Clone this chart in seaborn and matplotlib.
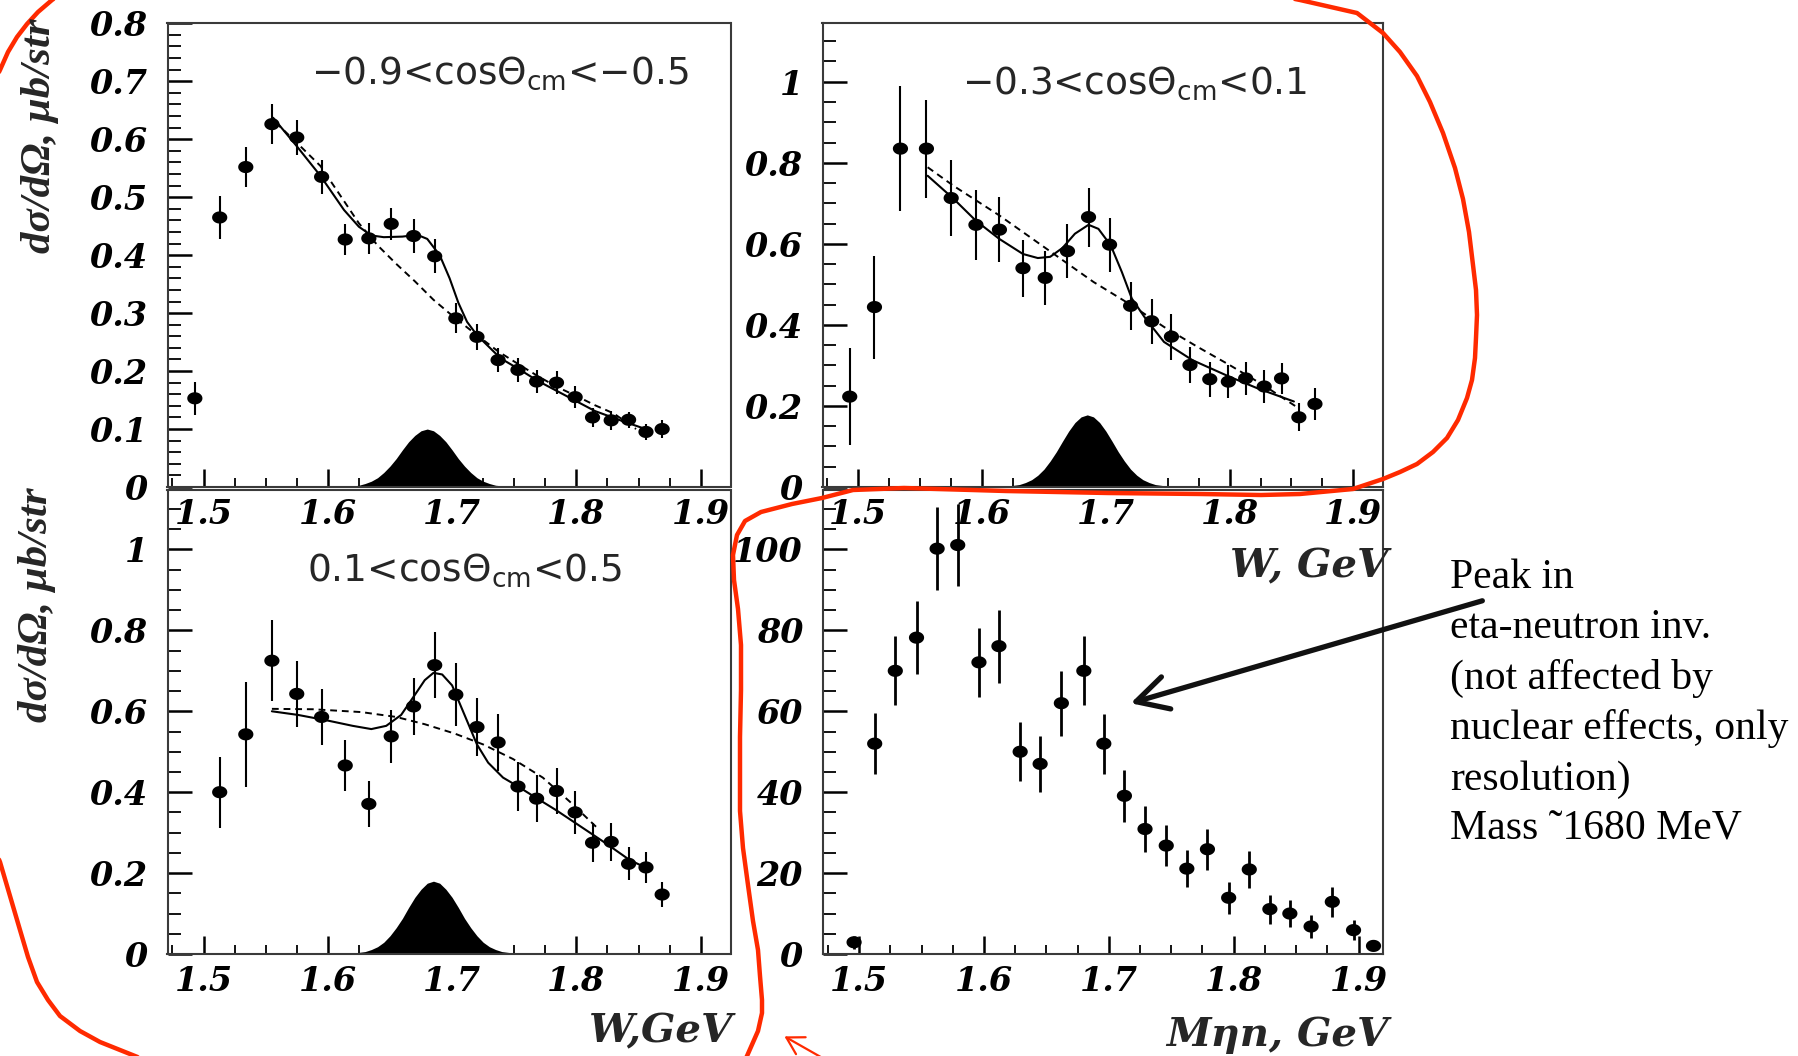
import numpy as np
import pandas as pd
import matplotlib
matplotlib.use("Agg")
import matplotlib.pyplot as plt
import seaborn as sns
from matplotlib.path import Path
from matplotlib.lines import Line2D
from matplotlib.patches import FancyArrowPatch
from matplotlib.ticker import MultipleLocator, FuncFormatter

# ---------------- data ----------------
W = [1.493, 1.513, 1.534, 1.555, 1.575, 1.595, 1.614, 1.633, 1.651, 1.669, 1.686, 1.703,
     1.720, 1.737, 1.753, 1.768, 1.784, 1.799, 1.813, 1.828, 1.842, 1.856, 1.869]

TL_y = [0.153, 0.465, 0.552, 0.626, 0.603, 0.535, 0.427, 0.429, 0.454, 0.433, 0.398, 0.291,
        0.259, 0.219, 0.202, 0.182, 0.180, 0.155, 0.120, 0.115, 0.116, 0.095, 0.100]
TL_err = [0.029, 0.037, 0.034, 0.034, 0.031, 0.030, 0.027, 0.027, 0.028, 0.029, 0.029, 0.026,
          0.022, 0.021, 0.020, 0.020, 0.020, 0.019, 0.017, 0.016, 0.014, 0.014, 0.015]

TR_y = [0.223, 0.444, 0.835, 0.835, 0.713, 0.647, 0.635, 0.540, 0.516, 0.582, 0.666, 0.598,
        0.447, 0.409, 0.371, 0.301, 0.266, 0.260, 0.268, 0.248, 0.268, 0.172, 0.205]
TR_err = [0.119, 0.127, 0.154, 0.121, 0.094, 0.087, 0.081, 0.070, 0.067, 0.067, 0.073, 0.067,
          0.059, 0.056, 0.057, 0.045, 0.043, 0.041, 0.041, 0.041, 0.039, 0.035, 0.040]

BL_W = [1.513, 1.534, 1.555, 1.575, 1.595, 1.614, 1.633, 1.651, 1.669, 1.686, 1.703,
        1.720, 1.737, 1.753, 1.768, 1.784, 1.799, 1.813, 1.828, 1.842, 1.856, 1.869]
BL_y = [0.400, 0.543, 0.725, 0.643, 0.586, 0.466, 0.371, 0.538, 0.612, 0.714, 0.641,
        0.561, 0.523, 0.414, 0.384, 0.403, 0.350, 0.275, 0.277, 0.223, 0.214, 0.147]
BL_err = [0.088, 0.130, 0.100, 0.082, 0.070, 0.062, 0.056, 0.065, 0.070, 0.082, 0.078,
          0.072, 0.070, 0.060, 0.058, 0.058, 0.054, 0.048, 0.048, 0.041, 0.038, 0.030]

M = [1.496, 1.5125, 1.529, 1.546, 1.5625, 1.579, 1.596, 1.612, 1.629, 1.645, 1.662, 1.680, 1.696,
     1.7125, 1.729, 1.746, 1.7625, 1.779, 1.796, 1.8125, 1.829, 1.845, 1.862, 1.879, 1.896, 1.912]
BR_y = [2.9, 52.0, 70.0, 78.2, 100.2, 101.1, 72.1, 76.1, 50.0, 47.0, 62.0, 70.0, 52.0,
        39.1, 30.9, 26.8, 21.1, 25.9, 13.9, 20.9, 11.1, 10.0, 6.8, 12.9, 5.9, 2.0]
BR_err = [1.6, 7.5, 8.5, 9.0, 10.2, 10.2, 8.5, 9.0, 7.3, 7.0, 8.0, 8.5, 7.4,
          6.4, 5.7, 5.1, 4.5, 5.1, 3.9, 4.5, 3.6, 3.4, 2.8, 3.7, 2.5, 0.0]

# fit curves (full fit = solid, background = dashed)
TL_fit_x = [1.556, 1.575, 1.594, 1.613, 1.625, 1.635, 1.645, 1.660, 1.672, 1.680, 1.690, 1.698,
            1.705, 1.712, 1.720, 1.739, 1.754, 1.769, 1.792, 1.815, 1.838, 1.857]
TL_fit_y = [0.637, 0.588, 0.537, 0.478, 0.449, 0.434, 0.431, 0.432, 0.435, 0.428, 0.400, 0.360,
            0.318, 0.285, 0.262, 0.222, 0.203, 0.183, 0.157, 0.131, 0.113, 0.099]
TL_bg_x = [1.558, 1.575, 1.594, 1.610, 1.625, 1.640, 1.655, 1.670, 1.685, 1.701, 1.720, 1.737,
           1.754, 1.770, 1.785, 1.800, 1.815, 1.830, 1.848]
TL_bg_y = [0.629, 0.594, 0.554, 0.503, 0.455, 0.417, 0.385, 0.355, 0.323, 0.294, 0.262, 0.234,
           0.211, 0.190, 0.172, 0.157, 0.141, 0.127, 0.100]

TR_fit_x = [1.556, 1.577, 1.595, 1.614, 1.633, 1.645, 1.655, 1.665, 1.675, 1.686, 1.694, 1.704,
            1.713, 1.721, 1.732, 1.747, 1.770, 1.800, 1.823, 1.852]
TR_fit_y = [0.768, 0.711, 0.657, 0.612, 0.575, 0.565, 0.568, 0.590, 0.625, 0.647, 0.637, 0.596,
            0.530, 0.465, 0.416, 0.358, 0.313, 0.272, 0.243, 0.211]
TR_bg_x = [1.556, 1.577, 1.614, 1.652, 1.690, 1.721, 1.747, 1.774, 1.800, 1.827, 1.854]
TR_bg_y = [0.789, 0.743, 0.670, 0.588, 0.506, 0.448, 0.395, 0.346, 0.301, 0.252, 0.198]

BL_fit_x = [1.555, 1.576, 1.600, 1.620, 1.635, 1.647, 1.659, 1.671, 1.678, 1.685, 1.692, 1.700,
            1.710, 1.720, 1.729, 1.741, 1.751, 1.765, 1.784, 1.804, 1.824, 1.843, 1.859]
BL_fit_y = [0.600, 0.591, 0.577, 0.564, 0.556, 0.564, 0.591, 0.645, 0.677, 0.695, 0.691, 0.664,
            0.591, 0.518, 0.473, 0.436, 0.418, 0.391, 0.355, 0.314, 0.273, 0.232, 0.209]
BL_bg_x = [1.555, 1.588, 1.627, 1.655, 1.678, 1.702, 1.725, 1.749, 1.773, 1.796, 1.816]
BL_bg_y = [0.606, 0.605, 0.598, 0.586, 0.568, 0.545, 0.518, 0.482, 0.436, 0.373, 0.314]

# simulated resolution peaks (filled)
TL_res_x = [1.615, 1.620, 1.625, 1.630, 1.635, 1.640, 1.645, 1.650, 1.655, 1.660, 1.665, 1.670, 1.675,
            1.680, 1.685, 1.690, 1.695, 1.700, 1.705, 1.710, 1.715, 1.720, 1.725, 1.730, 1.735, 1.740, 1.745]
TL_res_y = [0.001, 0.002, 0.003, 0.006, 0.010, 0.016, 0.025, 0.036, 0.049, 0.064, 0.078, 0.089, 0.097,
            0.100, 0.097, 0.089, 0.078, 0.064, 0.049, 0.036, 0.025, 0.016, 0.010, 0.006, 0.003, 0.002, 0.001]
TR_res_x = [1.620, 1.625, 1.630, 1.635, 1.640, 1.645, 1.650, 1.655, 1.660, 1.665, 1.670, 1.675, 1.680,
            1.685, 1.690, 1.695, 1.700, 1.705, 1.710, 1.715, 1.720, 1.725, 1.730, 1.735, 1.740, 1.745, 1.750]
TR_res_y = [0.002, 0.004, 0.006, 0.011, 0.018, 0.029, 0.044, 0.064, 0.087, 0.113, 0.138, 0.159, 0.173,
            0.178, 0.173, 0.159, 0.138, 0.113, 0.087, 0.064, 0.044, 0.029, 0.018, 0.011, 0.006, 0.004, 0.002]
BL_res_x = TR_res_x
BL_res_y = [0.002, 0.004, 0.006, 0.011, 0.018, 0.029, 0.045, 0.065, 0.088, 0.115, 0.140, 0.160, 0.175,
            0.180, 0.175, 0.160, 0.140, 0.115, 0.088, 0.065, 0.045, 0.029, 0.018, 0.011, 0.006, 0.004, 0.002]

TITLES = ["\u22120.9<cos\u0398$_{cm}$<\u22120.5", "\u22120.3<cos\u0398$_{cm}$<0.1", "0.1<cos\u0398$_{cm}$<0.5"]
YLABEL = "d\u03c3/d\u03a9, \u03bcb/str"
NOTE = ["Peak in", "eta-neutron inv.", "(not affected by", "nuclear effects, only",
        "resolution)", "Mass \u02dc1680 MeV"]

# ---------------- style ----------------
sns.set_theme(style="ticks")
plt.rcParams.update({
    "font.family": ["Liberation Serif", "DejaVu Serif"],
    "font.weight": "bold",
    "font.style": "italic",
    "mathtext.default": "regular",
    "axes.linewidth": 1.5,
    "axes.edgecolor": "#3a3a3a",
    "axes.facecolor": "none",
    "xtick.direction": "in",
    "ytick.direction": "in",
    "xtick.color": "black",
    "ytick.color": "black",
})

FW, FH = 1798, 1056
fig = plt.figure(figsize=(FW / 100, FH / 100), dpi=100)
fig.patch.set_facecolor("white")


def P(x, y):
    return (x / FW, 1 - y / FH)


def add_ax(x0, y0, x1, y1):
    return fig.add_axes([x0 / FW, 1 - y1 / FH, (x1 - x0) / FW, (y1 - y0) / FH])


ax_tl = add_ax(167.5, 23, 730.5, 487)
ax_tr = add_ax(822.5, 23, 1383, 487)
ax_bl = add_ax(167.5, 490, 730.5, 954)
ax_br = add_ax(822.5, 490, 1383, 954)

th = np.linspace(0, 2 * np.pi, 40)
ELL = Path(np.column_stack([np.cos(th), 0.8 * np.sin(th)]))

fmt = FuncFormatter(lambda v, p: f"{v:g}")
TICKFONT = "DejaVu Serif"


def style(ax, xlim, ylim, ymaj, ymin):
    ax.set_xlim(*xlim)
    ax.set_ylim(*ylim)
    ax.xaxis.set_major_locator(MultipleLocator(0.1))
    ax.xaxis.set_minor_locator(MultipleLocator(0.025))
    ax.yaxis.set_major_locator(MultipleLocator(ymaj))
    ax.yaxis.set_minor_locator(MultipleLocator(ymin))
    ax.xaxis.set_major_formatter(fmt)
    ax.yaxis.set_major_formatter(fmt)
    ax.tick_params(axis="y", which="major", length=17, width=1.8, pad=14, labelsize=24,
                   labelfontfamily=TICKFONT)
    ax.tick_params(axis="y", which="minor", length=9, width=1.3)
    ax.tick_params(axis="x", which="major", length=13, width=1.8, pad=8, labelsize=24,
                   labelfontfamily=TICKFONT)
    ax.tick_params(axis="x", which="minor", length=6.5, width=1.3)
    ax.set_xlabel("")
    ax.set_ylabel("")
    for s in ax.spines.values():
        s.set_linewidth(1.5)
        s.set_color("#3a3a3a")


def points(ax, x, y, err, elw=1.5):
    df = pd.DataFrame({"x": x, "y": y, "err": err})
    ax.errorbar(df["x"], df["y"], yerr=df["err"], fmt="none", ecolor="black",
                elinewidth=elw, capsize=0, zorder=3)
    sns.scatterplot(data=df, x="x", y="y", ax=ax, marker=ELL, s=120, color="black",
                    edgecolor="none", linewidth=0, zorder=4, legend=False)


def curves(ax, fx, fy, bx, by, rx, ry):
    ax.fill_between(rx, 0, ry, color="black", lw=0, zorder=2)
    sns.lineplot(x=bx, y=by, ax=ax, color="black", lw=1.4, linestyle=(0, (3.5, 2.5)),
                 sort=False, zorder=3)
    sns.lineplot(x=fx, y=fy, ax=ax, color="black", lw=1.5, sort=False, zorder=3)


WLIM = (1.471, 1.924)
curves(ax_tl, TL_fit_x, TL_fit_y, TL_bg_x, TL_bg_y, TL_res_x, TL_res_y)
points(ax_tl, W, TL_y, TL_err)
style(ax_tl, WLIM, (0, 0.8005), 0.1, 0.02)

curves(ax_tr, TR_fit_x, TR_fit_y, TR_bg_x, TR_bg_y, TR_res_x, TR_res_y)
points(ax_tr, W, TR_y, TR_err)
style(ax_tr, WLIM, (0, 1.145), 0.2, 0.05)

curves(ax_bl, BL_fit_x, BL_fit_y, BL_bg_x, BL_bg_y, BL_res_x, BL_res_y)
points(ax_bl, BL_W, BL_y, BL_err)
style(ax_bl, WLIM, (0, 1.147), 0.2, 0.05)

points(ax_br, M, BR_y, BR_err, elw=2.0)
style(ax_br, (1.4707, 1.9196), (0, 114.7), 20, 5)

# panel titles
tkw = dict(family=["DejaVu Sans"], weight="normal", style="normal",
           fontsize=27, ha="center", va="center")
ax_tl.text(0.59, 0.892, TITLES[0], transform=ax_tl.transAxes, **tkw)
ax_tr.text(0.556, 0.871, TITLES[1], transform=ax_tr.transAxes, **tkw)
ax_bl.text(0.528, 0.828, TITLES[2], transform=ax_bl.transAxes, **tkw)

# axis titles
xkw = dict(family=["DejaVu Serif"], fontsize=29, weight="bold", style="italic",
           ha="right", va="center")
fig.text(*P(733, 1031), "W,GeV", **xkw)
fig.text(*P(1388, 566), "W, GeV", **xkw)
fig.text(*P(1388, 1035), "M\u03b7n, GeV", **xkw)
ykw = dict(family=["Liberation Serif"], fontsize=31, weight="bold", style="italic",
           rotation=90, ha="center", va="top")
fig.text(*P(40, 18), YLABEL, **ykw)
fig.text(*P(37, 487), YLABEL, **ykw)

# note
for i, line in enumerate(NOTE):
    fig.text(*P(1450, 588 + 50.4 * i), line, fontsize=30, weight="normal", style="normal",
             color="black", ha="left", va="baseline")

# black arrow
fig.add_artist(FancyArrowPatch(P(1485, 600), P(1128, 704), transform=fig.transFigure,
                               arrowstyle="->,head_length=0.75,head_width=0.4",
                               mutation_scale=30, lw=3.8, color="#111111"))

# red hand-drawn outlines
RED = "#ff2a00"
red_paths = [
    [(-5, 80), (0, 70), (8, 52), (17, 37), (27, 24), (38, 12), (52, 0), (62, -7)],
    [(1240, -12), (1300, 0), (1357, 13), (1383, 33), (1400, 52), (1417, 76), (1430, 102),
     (1443, 133), (1455, 168), (1463, 199), (1469, 232), (1473, 265), (1476, 290), (1477, 315),
     (1476, 338), (1475, 358), (1472, 380), (1467, 398), (1458, 420), (1447, 438), (1433, 452),
     (1417, 464), (1400, 472), (1383, 479), (1353, 489), (1300, 494), (1261, 495), (1200, 494),
     (1108, 493), (1006, 491), (904, 488), (853, 490), (822, 498), (792, 504), (761, 512),
     (745, 521), (737, 535), (733, 555), (734, 580), (738, 609), (741, 645), (741, 690),
     (740, 737), (740, 811), (743, 848), (748, 885), (753, 921), (758, 950), (760, 976),
     (762, 1000), (762, 1013), (758, 1031), (747, 1056), (740, 1070)],
    [(-5, 850), (0, 862), (10, 896), (20, 930), (28, 957), (37, 982), (48, 1000), (60, 1016),
     (80, 1031), (100, 1042), (125, 1052), (150, 1062)],
]
for pth in red_paths:
    xs = [P(a, b)[0] for a, b in pth]
    ys = [P(a, b)[1] for a, b in pth]
    fig.add_artist(Line2D(xs, ys, transform=fig.transFigure, color=RED, lw=3.2,
                          solid_capstyle="round", solid_joinstyle="round"))
fig.add_artist(FancyArrowPatch(P(826, 1060), P(782, 1035), transform=fig.transFigure,
                               arrowstyle="->,head_length=0.6,head_width=0.35",
                               mutation_scale=20, lw=1.6, color=RED))

fig.savefig("out.png", dpi=100)
